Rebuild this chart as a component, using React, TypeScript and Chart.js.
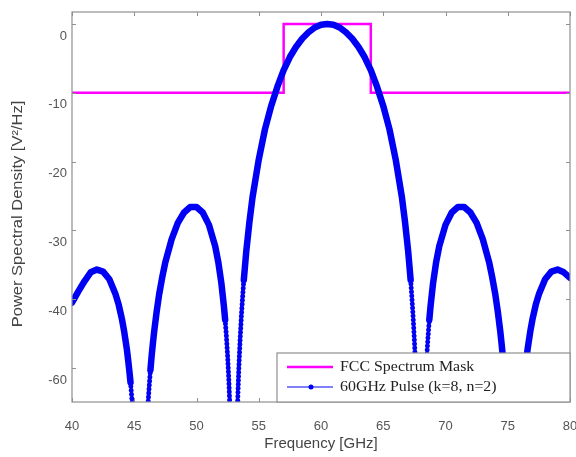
import React, { useEffect, useRef } from "react";
import { Chart, registerables } from "chart.js";

Chart.register(...registerables);

// FCC spectrum mask (GHz, dB)
const maskFreq = [40, 57, 57, 64, 64, 80];
const maskLevel = [-10, -10, 0, 0, -10, -10];

// 60 GHz pulse PSD (GHz, dB)
const pulseFreq = [
  40, 40.5, 41, 41.5, 42, 42.5, 43, 43.5, 43.75, 44.0, 44.2, 44.4, 44.5, 44.6, 44.7, 44.8, 44.9,
  46.1, 46.2, 46.3, 46.4, 46.5, 46.6, 46.8, 47.0, 47.25, 47.5, 48, 48.5, 49, 49.5, 50, 50.5, 51,
  51.5, 51.75, 52.0, 52.2, 52.3, 52.4, 52.5, 52.6, 52.7,
  53.3, 53.4, 53.5, 53.6, 53.7, 53.8, 54.0, 54.25, 54.5, 55, 55.5, 56, 56.5, 57, 57.5, 58, 58.5,
  59, 59.5, 60, 60.5, 61, 61.5, 62, 62.5, 63, 63.5, 64, 64.5, 65, 65.5, 66, 66.5, 66.75, 67.0,
  67.2, 67.3, 67.4, 67.5, 67.6, 67.7,
  68.3, 68.4, 68.5, 68.6, 68.7, 68.8, 69.0, 69.25, 69.5, 70, 70.5, 71, 71.5, 72, 72.5, 73, 73.5,
  73.75, 74.0, 74.2, 74.4, 74.5, 74.6, 74.7, 74.8, 74.9,
  76.1, 76.2, 76.3, 76.4, 76.5, 76.6, 76.8, 77.0, 77.25, 77.5, 78, 78.5, 79, 79.5, 80,
];
const pulsePsd = [
  -40.5, -38.9, -37.4, -36.1, -35.7, -36.0, -37.1, -39.3, -40.8, -42.8, -44.8, -47.2, -48.7, -50.3, -52.1, -54.3, -56.8,
  -55.4, -52.7, -50.3, -48.2, -46.4, -44.7, -41.8, -39.3, -36.8, -34.6, -31.3, -28.9, -27.4, -26.6, -26.6, -27.4, -29.2,
  -32.3, -34.6, -37.7, -41.0, -43.0, -45.4, -48.3, -51.9, -56.7,
  -55.3, -50.0, -46.0, -42.6, -39.8, -37.2, -33.0, -28.8, -25.2, -19.7, -15.3, -11.9, -9.1, -6.7, -4.8, -3.3, -2.1,
  -1.2, -0.5, -0.1, 0, -0.1, -0.5, -1.2, -2.1, -3.3, -4.8, -6.7, -9.1, -11.9, -15.3, -19.7, -25.2, -28.8, -33.0,
  -37.2, -39.8, -42.6, -46.0, -50.0, -55.3,
  -56.7, -51.9, -48.3, -45.4, -43.0, -41.0, -37.7, -34.6, -32.3, -29.2, -27.4, -26.6, -26.6, -27.4, -28.9, -31.3, -34.6,
  -36.8, -39.3, -41.8, -44.7, -46.4, -48.2, -50.3, -52.7, -55.4,
  -56.8, -54.3, -52.1, -50.3, -48.7, -47.2, -44.8, -42.8, -40.8, -39.3, -37.1, -36.0, -35.7, -36.1, -36.9,
];

const xTickValues = [40, 45, 50, 55, 60, 65, 70, 75, 80];
const yTickValues = [0, -10, -20, -30, -40, -50];
const yTickLabels = ["0", "-10", "-20", "-30", "-40", "-60"];

const seriesNames = ["FCC Spectrum Mask", "60GHz Pulse (k=8, n=2)"];
const xTitle = "Frequency [GHz]";
const yTitle = "Power Spectral Density [V\u00B2/Hz]";

const MAGENTA = "#ff00ff";
const BLUE = "#0000f4";
const AXIS = "#8f8f8f";

const framePlugin = {
  id: "frame",
  afterDatasetsDraw(chart: any) {
    const { ctx, chartArea: a, scales } = chart;
    ctx.save();
    ctx.strokeStyle = AXIS;
    ctx.lineWidth = 1.2;
    ctx.strokeRect(a.left, a.top, a.right - a.left, a.bottom - a.top);
    ctx.lineWidth = 1;
    const tl = 4;
    ctx.beginPath();
    xTickValues.forEach((v) => {
      const px = Math.round(scales.x.getPixelForValue(v)) + 0.5;
      ctx.moveTo(px, a.bottom);
      ctx.lineTo(px, a.bottom - tl);
      ctx.moveTo(px, a.top);
      ctx.lineTo(px, a.top + tl);
    });
    yTickValues.forEach((v) => {
      const py = Math.round(scales.y.getPixelForValue(v)) + 0.5;
      ctx.moveTo(a.left, py);
      ctx.lineTo(a.left + tl, py);
      ctx.moveTo(a.right, py);
      ctx.lineTo(a.right - tl, py);
    });
    ctx.stroke();
    ctx.restore();
  },
  afterDraw(chart: any) {
    const { ctx, chartArea: a } = chart;
    ctx.save();
    // axis titles
    ctx.fillStyle = "#444";
    ctx.font = "15px 'Liberation Sans', Arial, sans-serif";
    ctx.textAlign = "center";
    ctx.textBaseline = "middle";
    ctx.fillText(xTitle, (a.left + a.right) / 2, 444);
    ctx.translate(18, 214);
    ctx.rotate(-Math.PI / 2);
    ctx.scale(1.1, 1);
    ctx.fillText(yTitle, 0, 0);
    ctx.restore();

    // legend
    ctx.save();
    const lx = 277;
    const ly = 353;
    const lw = a.right - lx;
    const lh = a.bottom - ly;
    ctx.fillStyle = "#ffffff";
    ctx.fillRect(lx, ly, lw, lh);
    ctx.strokeStyle = AXIS;
    ctx.lineWidth = 1.2;
    ctx.strokeRect(lx, ly, lw, lh);
    const rows = [367, 387];
    ctx.strokeStyle = MAGENTA;
    ctx.lineWidth = 2.5;
    ctx.beginPath();
    ctx.moveTo(lx + 10, rows[0]);
    ctx.lineTo(lx + 56, rows[0]);
    ctx.stroke();
    ctx.strokeStyle = BLUE;
    ctx.lineWidth = 1;
    ctx.beginPath();
    ctx.moveTo(lx + 10, rows[1]);
    ctx.lineTo(lx + 56, rows[1]);
    ctx.stroke();
    ctx.fillStyle = BLUE;
    ctx.beginPath();
    ctx.arc(lx + 34, rows[1], 2.5, 0, Math.PI * 2);
    ctx.fill();
    ctx.fillStyle = "#222";
    ctx.font = "15px 'Liberation Serif', 'Times New Roman', serif";
    ctx.textAlign = "left";
    ctx.textBaseline = "middle";
    ctx.translate(lx + 63, 0);
    ctx.scale(1.06, 1);
    ctx.fillText(seriesNames[0], 0, rows[0]);
    ctx.fillText(seriesNames[1], 0, rows[1]);
    ctx.restore();
  },
};

export default function App() {
  const ref = useRef<HTMLCanvasElement | null>(null);
  useEffect(() => {
    if (!ref.current) return;
    const steep = (c: any) =>
      Math.abs(c.p1.y - c.p0.y) > 12 * Math.abs(c.p1.x - c.p0.x);
    const chart = new Chart(ref.current, {
      type: "line",
      data: {
        datasets: [
          {
            label: seriesNames[0],
            data: maskFreq.map((f, i) => ({ x: f, y: maskLevel[i] })),
            borderColor: MAGENTA,
            borderWidth: 2.5,
            pointRadius: 0,
            tension: 0,
            order: 2,
            clip: 0,
          } as any,
          {
            label: seriesNames[1],
            data: pulseFreq.map((f, i) => ({ x: f, y: pulsePsd[i] })),
            borderColor: BLUE,
            borderWidth: 6.5,
            borderCapStyle: "round",
            borderJoinStyle: "round",
            pointRadius: 0,
            tension: 0,
            order: 1,
            clip: 0,
            segment: {
              borderDash: (c: any) => (steep(c) ? [0.01, 4] : undefined),
              borderWidth: (c: any) => (steep(c) ? 5 : undefined),
            },
          } as any,
        ],
      },
      options: {
        responsive: true,
        maintainAspectRatio: false,
        animation: false,
        layout: { padding: { top: 12, right: 6, left: 0, bottom: 0 } },
        plugins: { legend: { display: false }, tooltip: { enabled: false } },
        scales: {
          x: {
            type: "linear",
            min: 40,
            max: 80,
            afterFit: (s: any) => {
              s.height = 55;
              s.paddingLeft = 0;
              s.paddingRight = 0;
            },
            afterBuildTicks: (s: any) => {
              s.ticks = xTickValues.map((v) => ({ value: v }));
            },
            grid: { display: false, drawTicks: false },
            border: { display: false },
            ticks: {
              padding: 17,
              color: "#555",
              font: { family: "'Liberation Sans', Arial, sans-serif", size: 13 },
              maxRotation: 0,
              autoSkip: false,
            },
          },
          y: {
            type: "linear",
            min: -54.95,
            max: 1.75,
            afterFit: (s: any) => {
              s.width = 72;
              s.paddingTop = 0;
              s.paddingBottom = 0;
            },
            afterBuildTicks: (s: any) => {
              s.ticks = yTickValues.map((v) => ({ value: v }));
            },
            grid: { display: false, drawTicks: false },
            border: { display: false },
            ticks: {
              padding: 5,
              labelOffset: 12,
              color: "#555",
              font: { family: "'Liberation Sans', Arial, sans-serif", size: 13 },
              autoSkip: false,
              callback: (v: any) => yTickLabels[yTickValues.indexOf(Number(v))],
            },
          },
        },
      } as any,
      plugins: [framePlugin],
    });
    return () => chart.destroy();
  }, []);
  return (
    <div style={{ position: "fixed", left: 0, top: 0, width: 576, height: 457, background: "#fff" }}>
      <canvas ref={ref} />
    </div>
  );
}
